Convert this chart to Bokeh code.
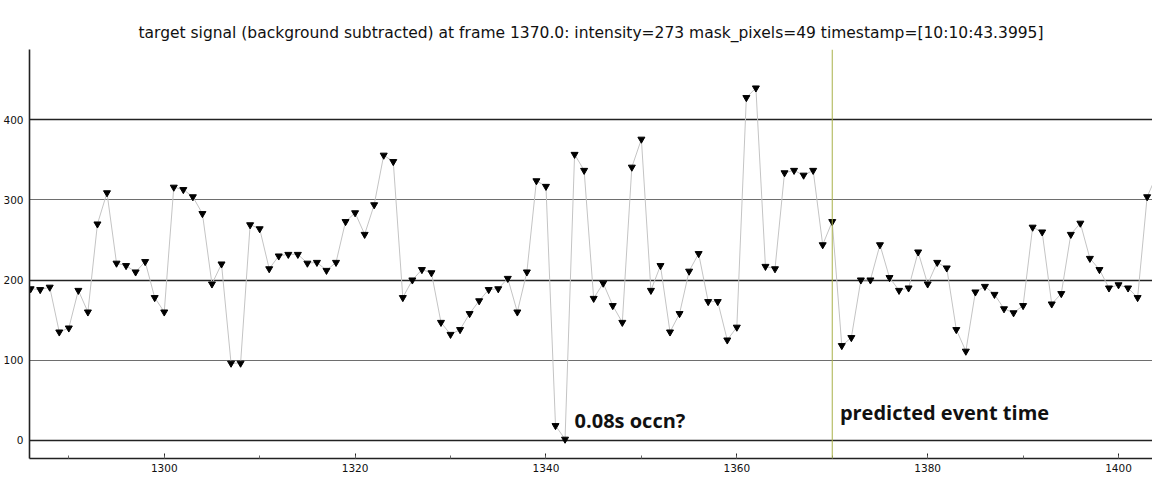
from bokeh.plotting import figure
from bokeh.models import (ColumnDataSource, Span, Grid, FixedTicker,
                          SingleIntervalTicker, Range1d)
from bokeh.core.properties import value
from bokeh.embed import file_html
from bokeh.resources import INLINE

title_text = ("target signal (background subtracted) at frame 1370.0: "
              "intensity=273 mask_pixels=49 timestamp=[10:10:43.3995]")

frames = list(range(1286, 1405))
intensity = [
    189, 188, 191, 135, 140, 187, 160, 270, 309, 221,   # 1286-1295
    218, 210, 223, 178, 160, 316, 313, 304, 283, 195,   # 1296-1305
    220, 96, 96, 269, 264, 214, 230, 232, 232, 221,     # 1306-1315
    222, 212, 222, 273, 284, 257, 294, 356, 348, 178,   # 1316-1325
    200, 213, 209, 147, 132, 138, 158, 174, 188, 189,   # 1326-1335
    202, 160, 210, 324, 317, 18, 1, 357, 337, 177,      # 1336-1345
    196, 168, 147, 341, 376, 187, 218, 135, 158, 211,   # 1346-1355
    233, 173, 173, 125, 141, 428, 440, 217, 214, 334,   # 1356-1365
    337, 331, 337, 244, 273, 118, 128, 200, 200, 244,   # 1366-1375
    203, 187, 190, 235, 195, 222, 215, 138, 111, 185,   # 1376-1385
    192, 182, 164, 159, 168, 266, 260, 170, 183, 257,   # 1386-1395
    271, 227, 213, 190, 194, 190, 178, 304, 331,        # 1396-1404
]

major_levels = [0, 200, 400]
minor_levels = [100, 300]
y_ticks = [0, 100, 200, 300, 400]

event_frame = 1370
notes_x = [1343.0, 1370.8]
notes_y = [24, 35]
notes_text = ["0.08s occn?", "predicted event time"]

src = ColumnDataSource(dict(x=frames, y=intensity))
notes = ColumnDataSource(dict(x=notes_x, y=notes_y, t=notes_text))

p = figure(width=1152, height=501, output_backend="svg", toolbar_location=None,
           x_range=Range1d(1285.88, 1403.56), y_range=Range1d(-23.1, 488.1),
           min_border_left=27, min_border_right=0, min_border_top=49,
           min_border_bottom=43)
p.outline_line_color = None
p.background_fill_color = "white"
p.border_fill_color = "white"

p.title.text = title_text
p.title.align = "center"
p.title.text_font = "DejaVu Sans"
p.title.text_font_size = "15.5px"
p.title.text_font_style = "normal"
p.title.text_color = "#111111"
p.title.standoff = 15

p.xgrid.visible = False
p.ygrid.ticker = FixedTicker(ticks=major_levels)
p.ygrid.grid_line_color = "#222222"
p.ygrid.grid_line_width = 1.6
minor_grid = Grid(dimension=1, ticker=FixedTicker(ticks=minor_levels),
                  grid_line_color="#6e6e6e", grid_line_width=1)
p.add_layout(minor_grid)

# axes
p.xaxis.ticker = SingleIntervalTicker(interval=20, num_minor_ticks=2)
p.yaxis.ticker = FixedTicker(ticks=y_ticks)
for ax in (p.xaxis[0], p.yaxis[0]):
    ax.axis_line_color = "#222222"
    ax.axis_line_width = 1.6
    ax.major_label_text_font = "DejaVu Sans"
    ax.major_label_text_font_size = "10.5px"
    ax.major_label_text_color = "#111111"
    ax.major_tick_out = 0
    ax.minor_tick_out = 0
p.xaxis.major_tick_in = 5
p.xaxis.minor_tick_in = 3
p.xaxis.major_tick_line_color = "#222222"
p.xaxis.minor_tick_line_color = "#666666"
p.xaxis.major_label_standoff = 5
p.yaxis.major_tick_in = 0
p.yaxis.minor_tick_line_color = None
p.yaxis.major_tick_line_color = None
p.yaxis.major_label_standoff = 6

p.add_layout(Span(location=event_frame, dimension="height",
                  line_color="#a9b14a", line_width=1))

p.line("x", "y", source=src, line_color="#c4c4c4", line_width=1)
p.scatter("x", "y", source=src, marker="inverted_triangle", size=7,
          fill_color="black", line_color="black")

p.text("x", "y", text="t", source=notes, text_font=value("Open Sans"),
       text_font_style="bold", text_font_size="20px", text_color="#111111",
       text_align="left", text_baseline="alphabetic")

open("out.html", "w").write(file_html(p, INLINE))
